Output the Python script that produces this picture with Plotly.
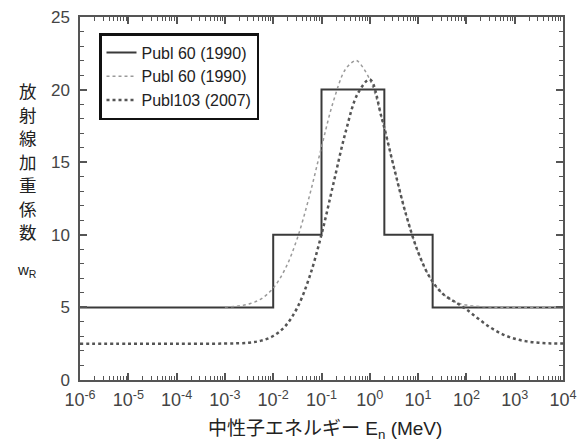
import plotly.graph_objects as go

# Step function, ICRP Publ 60 (1990)
step_E = [1e-6, 1e-2, 1e-1, 2, 20, 1e4]
step_w = [5, 10, 20, 10, 5, 5]

# Continuous function, ICRP Publ 60 (1990)
p60_logE = [-3, -2.75, -2.5, -2.25, -2, -1.75, -1.5, -1.25, -1, -0.75, -0.5, -0.3, -0.25,
            0, 0.25, 0.5, 0.75, 1, 1.25, 1.5, 1.75, 2, 2.5, 3, 4]
p60_w = [5.03, 5.08, 5.24, 5.59, 6.33, 7.66, 9.77, 12.67, 16.04, 19.23, 21.42, 22.0, 21.96,
         20.69, 18.0, 14.64, 11.40, 8.81, 7.03, 5.97, 5.41, 5.16, 5.02, 5.0, 5.0]

# ICRP Publ 103 (2007)
p103_logE = [-6, -5, -4, -3, -2.5, -2.25, -2, -1.75, -1.5, -1.25, -1, -0.75, -0.5, -0.25,
             0, 0.25, 0.5, 0.75, 1, 1.25, 1.5, 1.7, 1.75, 2, 2.25, 2.5, 2.75, 3, 3.25, 3.5, 3.75, 4]
p103_w = [2.5, 2.5, 2.5, 2.51, 2.57, 2.71, 3.03, 3.71, 4.99, 7.08, 10.02, 13.57, 17.09, 19.72,
          20.69, 18.0, 14.64, 11.40, 8.81, 7.03, 5.97, 5.50, 5.41, 4.86, 4.21, 3.61, 3.15, 2.84, 2.66, 2.57, 2.52, 2.51]

legend_names = ["Publ 60 (1990)", "Publ 60 (1990)", "Publ103 (2007)"]

x_exps = list(range(-6, 5))
x_tickvals = [10.0 ** n for n in x_exps]
x_ticktext = ["10<sup>%d</sup>" % n for n in x_exps]
x_minor = [k * 10.0 ** n for n in range(-6, 4) for k in range(2, 10)]

y_title_chars = ["放", "射", "線", "加", "重", "係", "数"]

FONT = "Liberation Sans, Arial, Noto Sans CJK JP, sans-serif"
JP = "Noto Sans CJK JP, sans-serif"

# page body has an 8px margin; plot area target on screen: x 80..563, y 17..380
OFF = 8
L, R, T, B = 80, 563, 17, 380
W, H = 586, 446
PW, PH = R - L, B - T

fig = go.Figure()
fig.add_trace(go.Scatter(x=step_E, y=step_w, mode="lines", line_shape="hv",
                         line=dict(color="#3a3a3a", width=2), name=legend_names[0]))
fig.add_trace(go.Scatter(x=[10 ** v for v in p60_logE], y=p60_w, mode="lines", line_shape="spline",
                         line=dict(color="#9a9a9a", width=1.5, dash="dot"), name=legend_names[1]))
fig.add_trace(go.Scatter(x=[10 ** v for v in p103_logE], y=p103_w, mode="lines", line_shape="spline",
                         line=dict(color="#555555", width=2.5, dash="dot"), name=legend_names[2]))

axis_common = dict(showgrid=False, zeroline=False, showline=True, linecolor="#555555", linewidth=1.5,
                   ticks="inside", mirror="ticks", tickcolor="#555555", tickwidth=1.5,
                   automargin=False, ticklabeloverflow="allow")

fig.update_xaxes(type="log", range=[-6, 4], tickmode="array", tickvals=x_tickvals, ticktext=x_ticktext,
                 ticklen=7, tickangle=0, ticklabelstandoff=3,
                 tickfont=dict(family=FONT, size=18, color="#444444"),
                 minor=dict(ticks="inside", tickmode="array", tickvals=x_minor, ticklen=4,
                            tickcolor="#555555", tickwidth=1.2),
                 **axis_common)
fig.update_yaxes(range=[0, 25], dtick=5, ticklen=7, ticklabelstandoff=5,
                 tickfont=dict(family=FONT, size=17, color="#444444"),
                 minor=dict(ticks="inside", dtick=1, ticklen=4, tickcolor="#555555", tickwidth=1.2),
                 **axis_common)

fig.update_layout(
    width=W, height=H,
    margin=dict(l=L - OFF, r=W - R + OFF, t=T - OFF, b=H - B + OFF),
    plot_bgcolor="white", paper_bgcolor="white",
    font=dict(family=FONT, size=14, color="#222222"),
    legend=dict(x=(99 - L) / PW, y=(B - 33) / PH, xanchor="left", yanchor="top", bgcolor="white",
                bordercolor="#111111", borderwidth=2.5, font=dict(family=FONT, size=16, color="#222222"),
                tracegroupgap=0, itemwidth=30),
    showlegend=True,
)

for i, ch in enumerate(y_title_chars):
    ypix = 91 + i * 23.4
    fig.add_annotation(xref="paper", yref="paper", x=(28 - L) / PW, y=(B - ypix) / PH,
                       xanchor="center", yanchor="middle", showarrow=False, text=ch,
                       font=dict(family=JP, size=17.5, color="#222222"))
fig.add_annotation(xref="paper", yref="paper", x=(27 - L) / PW, y=(B - 270) / PH,
                   xanchor="center", yanchor="middle", showarrow=False, text="w<sub>R</sub>",
                   font=dict(family=FONT, size=15, color="#222222"))
fig.add_annotation(xref="paper", yref="paper", x=(325 - L) / PW, y=(B - 430) / PH, xanchor="center",
                   yanchor="middle", showarrow=False, text="中性子エネルギー E<sub>n</sub> (MeV)",
                   font=dict(family=FONT, size=19, color="#222222"))

fig.write_html("out.html")
